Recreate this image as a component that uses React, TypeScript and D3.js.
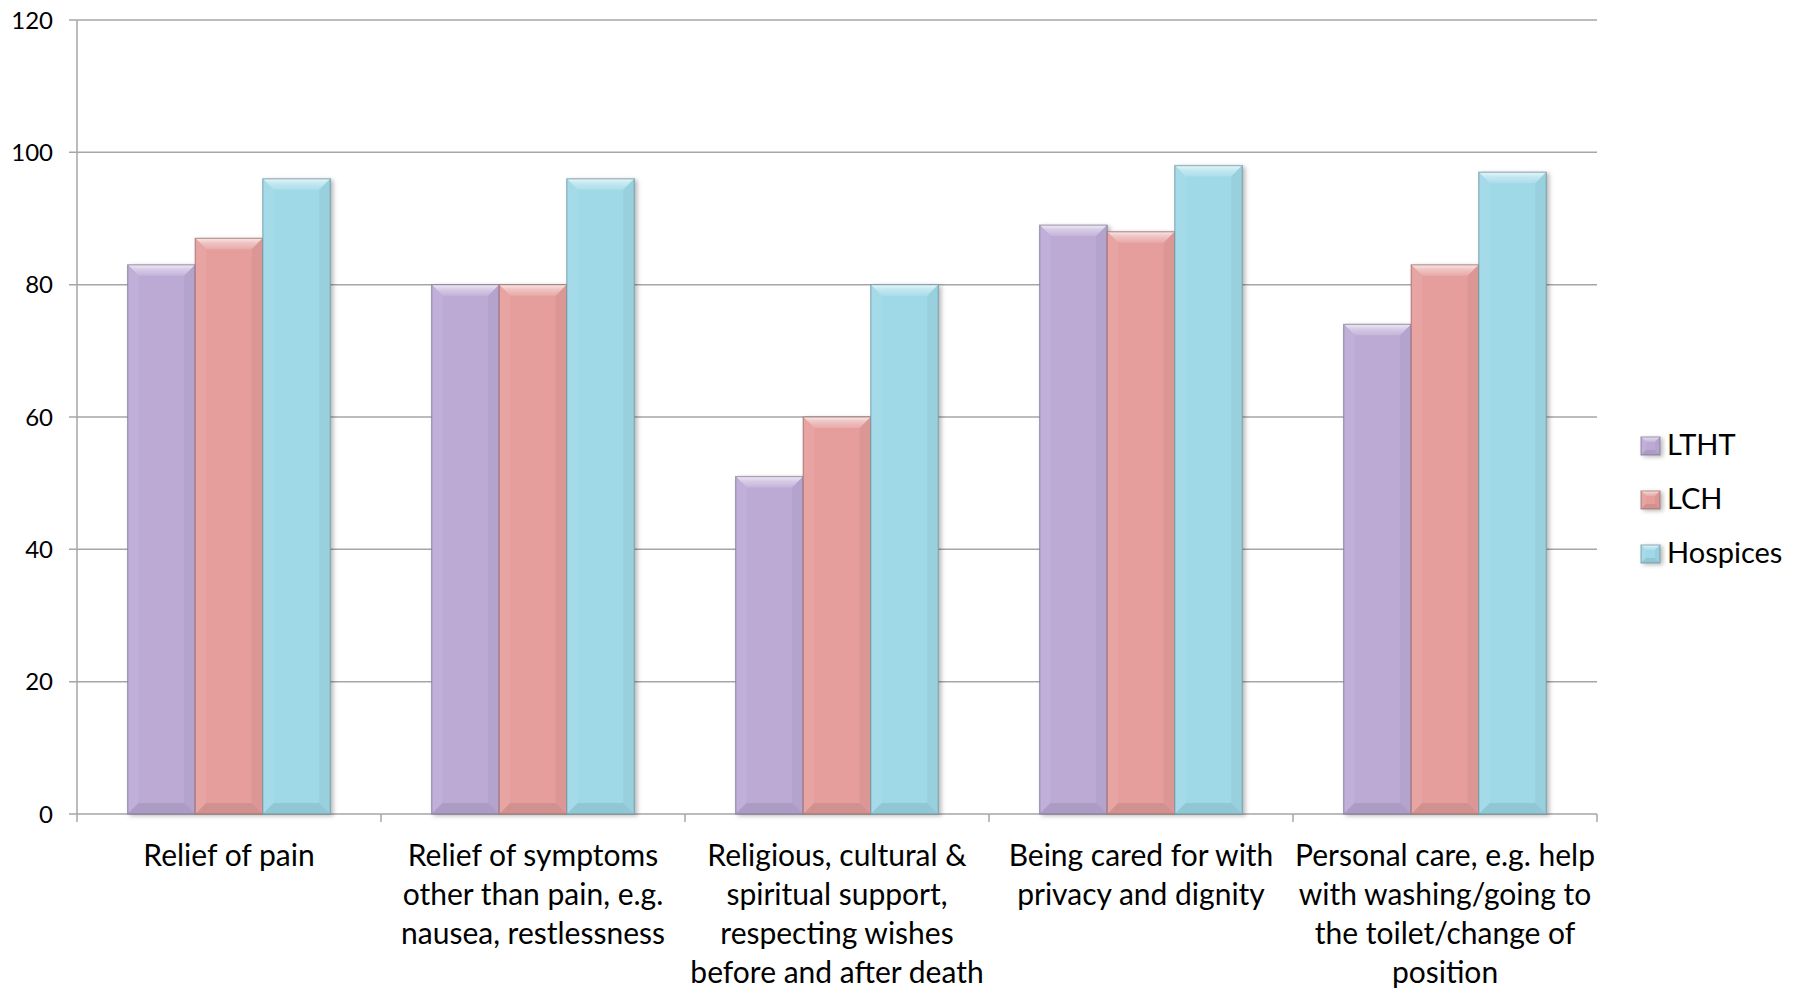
import React from "react";
import * as d3 from "d3";

const categories = [
  ["Relief of pain"],
  ["Relief of symptoms", "other than pain, e.g.", "nausea, restlessness"],
  ["Religious, cultural &", "spiritual support,", "respecting wishes", "before and after death"],
  ["Being cared for with", "privacy and dignity"],
  ["Personal care, e.g. help", "with washing/going to", "the toilet/change of", "position"],
];
const seriesNames = ["LTHT", "LCH", "Hospices"];
const lthtValues = [83, 80, 51, 89, 74];
const lchValues = [87, 80, 60, 88, 83];
const hospicesValues = [96, 96, 80, 98, 97];
const seriesValues = [lthtValues, lchValues, hospicesValues];
const seriesColors = ["#BCAAD5", "#E59E9C", "#9FD9E8"];
const yTicks = [0, 20, 40, 60, 80, 100, 120];

const W = 1801;
const H = 988;
const FONT = "Lato, 'Open Sans', sans-serif";

function Bevel({ x, y, w, h, s, b }: { x: number; y: number; w: number; h: number; s: number; b: number }) {
  const color = seriesColors[s];
  const c = d3.color(color)! as any;
  const lightish = d3.interpolateRgb(color, "#ffffff")(0.06);
  const dark = c.darker(0.12).formatHex();
  const darker = c.darker(0.25).formatHex();
  const stroke = c.darker(1.3).formatHex();
  const bb = Math.min(b, w / 2, h / 2);
  return (
    <g>
      <rect x={x} y={y} width={w} height={h} fill={color} />
      <polygon points={`${x},${y} ${x + w},${y} ${x + w - bb},${y + bb} ${x + bb},${y + bb}`} fill={`url(#top${s})`} />
      <polygon points={`${x},${y} ${x + bb},${y + bb} ${x + bb},${y + h - bb} ${x},${y + h}`} fill={lightish} />
      <polygon points={`${x + w},${y} ${x + w},${y + h} ${x + w - bb},${y + h - bb} ${x + w - bb},${y + bb}`} fill={dark} />
      <polygon points={`${x},${y + h} ${x + w},${y + h} ${x + w - bb},${y + h - bb} ${x + bb},${y + h - bb}`} fill={darker} />
      <rect x={x} y={y} width={w} height={h} fill="none" stroke={stroke} strokeWidth={1.3} strokeOpacity={0.55} />
    </g>
  );
}

export default function App() {
  const left = 77;
  const right = 1597;
  const top = 20;
  const bottom = 814;

  const y = d3.scaleLinear().domain([0, 120]).range([bottom, top]);
  const x0 = d3
    .scaleBand<number>()
    .domain(categories.map((_, i) => i))
    .range([left, right])
    .padding(0);
  const x1 = d3
    .scaleBand<number>()
    .domain(seriesNames.map((_, i) => i))
    .range([0, x0.bandwidth()])
    .paddingInner(0)
    .paddingOuter(0.75);

  const gridColor = "#A6A6A6";

  return (
    <svg
      width={W}
      height={H}
      style={{ position: "absolute", left: 0, top: 0, background: "#fff" }}
      fontFamily={FONT}
    >
      <defs>
        <filter id="sh" x="-20%" y="-20%" width="150%" height="150%">
          <feDropShadow dx="2.5" dy="1.5" stdDeviation="2" floodColor="#000" floodOpacity="0.28" />
        </filter>
        {seriesColors.map((col, s) => (
          <linearGradient key={s} id={`top${s}`} x1="0" y1="0" x2="0" y2="1">
            <stop offset="0" stopColor={d3.interpolateRgb(col, "#ffffff")(0.75)} />
            <stop offset="0.4" stopColor={d3.interpolateRgb(col, "#ffffff")(0.4)} />
            <stop offset="1" stopColor={d3.interpolateRgb(col, "#ffffff")(0.12)} />
          </linearGradient>
        ))}
      </defs>
      <rect x={0} y={0} width={W} height={H} fill="#fff" />
      {/* gridlines */}
      {yTicks.map((t) => (
        <g key={t}>
          <line x1={left - 8} x2={right} y1={y(t)} y2={y(t)} stroke={gridColor} strokeWidth={1.5} />
          <text x={53} y={y(t)} dy="0.36em" textAnchor="end" fontSize={24} fill="#000">
            {t}
          </text>
        </g>
      ))}
      {/* y axis */}
      <line x1={left} x2={left} y1={top} y2={bottom + 8} stroke={gridColor} strokeWidth={1.5} />
      {/* x ticks */}
      {categories.map((_, i) => (
        <line
          key={i}
          x1={x0(i)! + x0.bandwidth()}
          x2={x0(i)! + x0.bandwidth()}
          y1={bottom}
          y2={bottom + 8}
          stroke={gridColor}
          strokeWidth={1.5}
        />
      ))}
      {/* bars */}
      {categories.map((_, i) => (
        <g key={i} filter="url(#sh)">
          {seriesValues.map((vals, s) => {
            const bx = x0(i)! + x1(s)!;
            const by = y(vals[i]);
            return <Bevel key={s} x={bx} y={by} w={x1.bandwidth()} h={bottom - by} s={s} b={11} />;
          })}
        </g>
      ))}
      {/* category labels */}
      {categories.map((lines, i) => (
        <text key={i} textAnchor="middle" fontSize={30} fill="#000">
          {lines.map((ln, k) => (
            <tspan key={k} x={x0(i)! + x0.bandwidth() / 2} y={866 + k * 39}>
              {ln}
            </tspan>
          ))}
        </text>
      ))}
      {/* legend */}
      {seriesNames.map((n, s) => (
        <g key={n}>
          <g filter="url(#sh)">
            <Bevel x={1641} y={437 + s * 54} w={19} h={18} s={s} b={5} />
          </g>
          <text x={1667} y={455 + s * 54} fontSize={29} fill="#000">
            {n}
          </text>
        </g>
      ))}
    </svg>
  );
}
